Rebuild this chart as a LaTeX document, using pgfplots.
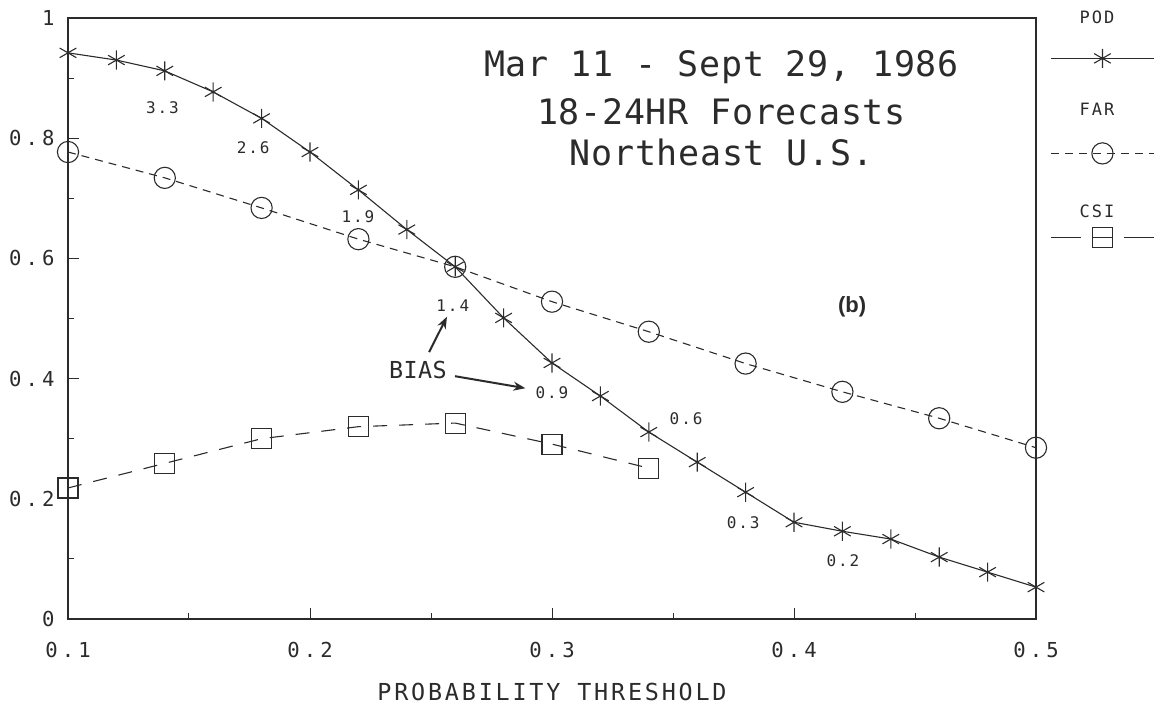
\documentclass[border=0pt]{standalone}
\usepackage{fontspec}
\setmainfont{DejaVu Sans Mono}
\newfontfamily\tickfont{DejaVu Sans Mono}[LetterSpace=20]
\newfontfamily\labfont{DejaVu Sans Mono}[LetterSpace=12]
\newfontfamily\titfont{DejaVu Sans Mono}[LetterSpace=2]
\newfontfamily\bfont{Liberation Sans}
\usepackage{pgfplots}
\pgfplotsset{compat=1.18}
\usetikzlibrary{arrows.meta}
\definecolor{ink}{HTML}{2B2B2B}

% legend sample with its name set above the line
\pgfplotsset{
  toplabel legend/.style n args={4}{
    legend image code/.code={
      \path[draw=none,fill=none] (0pt,-6pt) rectangle (51.5pt,#4);
      \draw[##1,mark repeat=2,mark phase=2,#2] plot coordinates {(0pt,0pt) (25.75pt,0pt) (51.5pt,0pt)};
      \node[font=\labfont\fontsize{8.5}{10}\selectfont,text=ink,inner sep=0pt] at (23pt,#3) {#1};
    }
  },
}

\pgfplotstableread{
x pod
0.10 0.942
0.12 0.930
0.14 0.912
0.16 0.877
0.18 0.833
0.20 0.777
0.22 0.714
0.24 0.648
0.26 0.586
0.28 0.501
0.30 0.426
0.32 0.371
0.34 0.311
0.36 0.261
0.38 0.211
0.40 0.161
0.42 0.146
0.44 0.133
0.46 0.103
0.48 0.078
0.50 0.053
}\podtab

\pgfplotstableread{
x far
0.10 0.777
0.14 0.734
0.18 0.684
0.22 0.632
0.26 0.586
0.30 0.528
0.34 0.478
0.38 0.425
0.42 0.378
0.46 0.334
0.50 0.285
}\fartab

\pgfplotstableread{
x csi
0.10 0.218
0.14 0.259
0.18 0.300
0.22 0.320
0.26 0.326
0.30 0.291
0.34 0.251
}\csitab

\begin{document}
\begin{tikzpicture}
\path[use as bounding box] (-34pt,-43.5pt) rectangle (543.5pt,309.5pt);
\begin{axis}[
  at={(0,0)}, anchor=south west,
  scale only axis, width=484pt, height=300.5pt,
  xmin=0.1, xmax=0.5, ymin=0, ymax=1,
  xtick={0.1,0.2,0.3,0.4,0.5}, xticklabels={0.1,0.2,0.3,0.4,0.5},
  ytick={0,0.2,0.4,0.6,0.8,1}, yticklabels={0,0.2,0.4,0.6,0.8,1},
  minor xtick={0.15,0.25,0.35,0.45},
  minor ytick={0.1,0.3,0.5,0.7,0.9},
  tick pos=left, tick align=inside,
  major tick length=5.5pt, minor tick length=3pt,
  every tick/.style={ink, line width=0.5pt},
  axis line style={ink, line width=0.6pt},
  tick label style={font=\tickfont\fontsize{10.3}{12}\selectfont, text=ink},
  xticklabel style={anchor=center, yshift=-15.5pt, inner sep=0pt},
  yticklabel style={anchor=east, xshift=-6.5pt, inner sep=0pt},
  xlabel={PROBABILITY THRESHOLD},
  xlabel style={at={(axis description cs:0.5,0)}, anchor=center, yshift=-36.5pt,
    font=\labfont\fontsize{11.7}{14}\selectfont, text=ink, inner sep=0pt},
  clip=false,
  legend style={at={(axis description cs:1,1)}, anchor=north west,
    xshift=7pt, yshift=6pt, draw=none, fill=none, inner sep=0pt,
    row sep=0pt, nodes={inner sep=0pt}},
]
\addplot[ink, line width=0.55pt, mark=asterisk, mark size=4.8pt,
  toplabel legend={POD}{}{20pt}{26pt}] table[x=x,y=pod] {\podtab};
\addlegendentry{\mbox{}}
\addplot[ink, line width=0.55pt, dash pattern=on 4pt off 3pt, mark=o, mark size=5.3pt,
  mark options={solid}, toplabel legend={FAR}{}{21.5pt}{41.5pt}] table[x=x,y=far] {\fartab};
\addlegendentry{\mbox{}}
\addplot[ink, line width=0.55pt, dash pattern=on 7pt off 6pt, mark=square, mark size=5pt,
  mark options={solid},
  toplabel legend={CSI}{dash pattern=on 15pt off 5.75pt on 10pt off 5.75pt}{12.5pt}{36pt}]
  table[x=x,y=csi] {\csitab};
\addlegendentry{\mbox{}}

% title
\node[font=\titfont\fontsize{17.5}{21}\selectfont, text=ink] at (axis cs:0.37,0.918) {Mar 11 - Sept 29, 1986};
\node[font=\titfont\fontsize{17.5}{21}\selectfont, text=ink] at (axis cs:0.37,0.844) {18-24HR Forecasts};
\node[font=\titfont\fontsize{17.5}{21}\selectfont, text=ink] at (axis cs:0.37,0.777) {Northeast U.S.};
\node[font=\bfont\bfseries\fontsize{11}{13}\selectfont, text=ink] at (axis cs:0.424,0.52) {(b)};

% bias values
\begin{scope}[every node/.style={font=\labfont\fontsize{8}{9}\selectfont, text=ink, inner sep=0pt}]
\node at (axis cs:0.139,0.850) {3.3};
\node at (axis cs:0.1765,0.784) {2.6};
\node at (axis cs:0.2198,0.669) {1.9};
\node at (axis cs:0.259,0.522) {1.4};
\node at (axis cs:0.300,0.376) {0.9};
\node at (axis cs:0.3554,0.334) {0.6};
\node at (axis cs:0.379,0.160) {0.3};
\node at (axis cs:0.4202,0.0965) {0.2};
\end{scope}
\node[font=\titfont\fontsize{11.7}{14}\selectfont, text=ink, inner sep=0pt] at (axis cs:0.2446,0.414) {BIAS};
\draw[ink, line width=1pt, -{Stealth[length=6pt,width=4.5pt]}] (axis cs:0.2492,0.444) -- (axis cs:0.2566,0.503);
\draw[ink, line width=1pt, -{Stealth[length=6pt,width=4.5pt]}] (axis cs:0.2599,0.404) -- (axis cs:0.2890,0.384);
\end{axis}
\end{tikzpicture}
\end{document}
